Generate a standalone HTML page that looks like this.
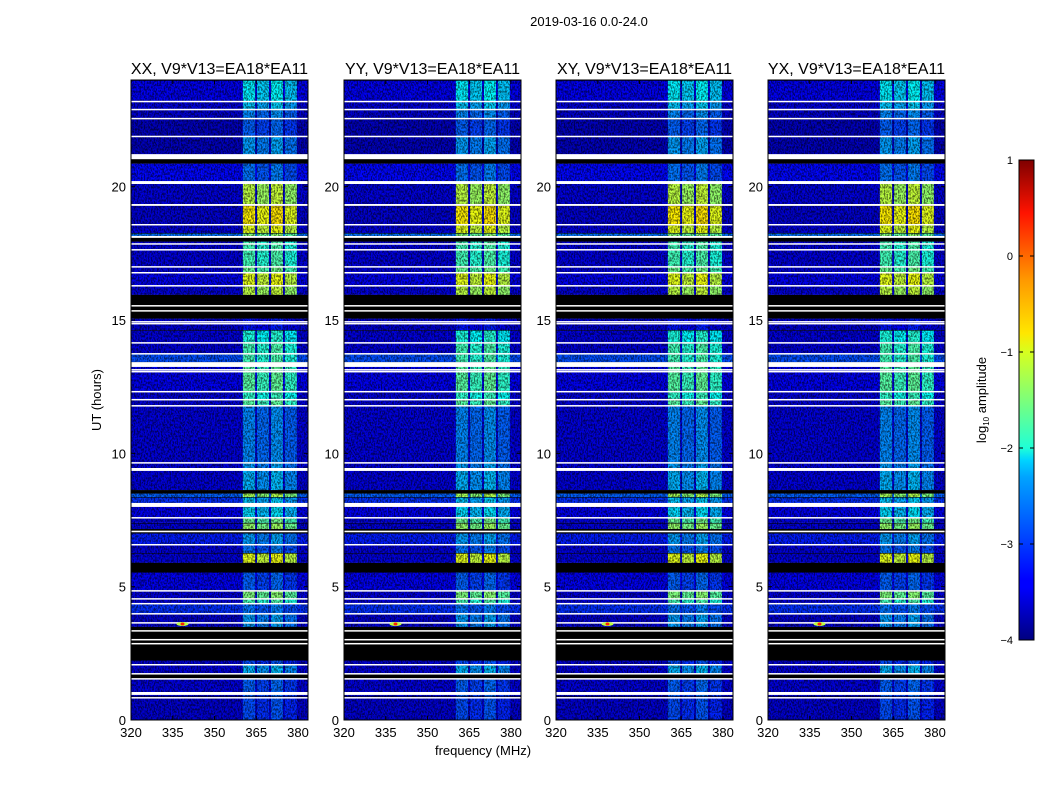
<!DOCTYPE html>
<html><head><meta charset="utf-8"><style>
html,body{margin:0;padding:0;background:#fff;}
svg{display:block;font-family:"Liberation Sans",sans-serif;}
</style></head><body>
<svg id="fig" width="1050" height="800" viewBox="0 0 1050 800">
<defs>
<filter id="speck" x="0" y="0" width="100%" height="100%" color-interpolation-filters="sRGB">
<feTurbulence type="fractalNoise" baseFrequency="0.7 0.45" numOctaves="2" seed="3" result="n"/>
<feColorMatrix in="n" type="matrix" values="0 0 0 0 0  0 0 0 0 0  0 0 0 0 0  4 0 0 0 -1.6" />
</filter>
<linearGradient id="jetgrad" x1="0" y1="1" x2="0" y2="0">
<stop offset="0" stop-color="#00007f"/><stop offset="0.11" stop-color="#0000ff"/>
<stop offset="0.125" stop-color="#0000ff"/><stop offset="0.34" stop-color="#00a4ff"/>
<stop offset="0.375" stop-color="#00d4ff"/><stop offset="0.4" stop-color="#1fffd7"/>
<stop offset="0.5" stop-color="#7dff7a"/><stop offset="0.6" stop-color="#d7ff1f"/>
<stop offset="0.64" stop-color="#ffe600"/><stop offset="0.75" stop-color="#ff9900"/>
<stop offset="0.89" stop-color="#ff1300"/><stop offset="1" stop-color="#7f0000"/>
</linearGradient>
</defs>
<text x="589" y="26" font-size="13" text-anchor="middle">2019-03-16 0.0-24.0</text>
<g id="panels"></g>
<text x="483" y="755" font-size="13" text-anchor="middle">frequency (MHz)</text>
<text x="101" y="400" font-size="13" text-anchor="middle" transform="rotate(-90 101 400)">UT (hours)</text>
<g>
<rect x="1019" y="160" width="15" height="480" fill="url(#jetgrad)" stroke="#000" stroke-width="1"/>
<g id="cbticks"></g>
<text x="986" y="400" font-size="13" text-anchor="middle" transform="rotate(-90 986 400)">log<tspan font-size="8" dy="3">10</tspan><tspan dy="-3"> amplitude</tspan></text>
</g>
</svg>
<script>
// ---- data ----
const panelTitles = ["XX, V9*V13=EA18*EA11","YY, V9*V13=EA18*EA11","XY, V9*V13=EA18*EA11","YX, V9*V13=EA18*EA11"];
const xTicks = [320,335,350,365,380];
const yTicks = [0,5,10,15,20];
const cbTicks = [1,0,-1,-2,-3,-4];
const rfiLo = [360.2,365.3,370.3,375.3];
const rfiHi = [364.6,369.6,374.6,379.6];
const rfiOffset = [0,-0.15,0.05,-0.2];
const bandTop = [24,23.2,22.9,22.55,21.9,21.05,20.88,20.15,19.3,18.58,18.26,18.1,17.96,17.0,16.78,16.29,15.94,15.07,14.62,14.15,13.74,13.42,12.32,12.02,11.79,9.65,9.4,8.62,8.51,8.36,8.06,7.6,7.39,7.16,7.01,6.58,6.26,5.89,5.55,4.86,4.55,4.37,3.99,3.49,2.25,2.08,1.74,1.56,0.9];
const bandBg = [-3.45,-3.55,-3.6,-3.7,-3.7,null,-3.35,-3.55,-3.6,-3.55,-2.8,null,-3.55,-3.55,-3.45,-3.55,null,-3.6,-3.55,-3.55,-3.0,-3.45,-3.55,-3.55,-3.55,-3.55,-3.55,null,-2.9,-3.15,-3.45,-3.55,-3.55,null,-3.25,-3.55,-3.55,null,-3.45,-3.55,-3.55,-3.15,-3.6,null,-3.6,-3.55,null,-3.55,-3.6];
const bandRfi = [-2.2,-2.4,-2.7,-2.9,-2.6,null,-2.8,-1.2,-0.8,-1.0,-1.5,null,-1.8,-1.6,-1.0,-1.2,null,-3.3,-2.0,-1.8,-1.8,-1.7,-1.9,-1.7,-2.7,-2.6,-2.5,null,-1.3,-2.4,-2.3,-1.6,-1.4,null,-2.6,-2.8,-1.0,null,-2.9,-1.5,-1.8,-2.8,-2.6,null,-3.0,-2.5,null,-2.9,-3.0];
const whiteTop = [23.22,22.92,22.58,21.91,21.22,20.21,19.35,18.6,18.15,17.88,17.66,17.02,16.8,16.31,15.56,15.37,14.96,14.89,14.17,13.76,13.42,13.16,13.09,12.34,12.04,11.81,9.67,9.45,8.14,7.61,7.1,6.6,4.87,4.57,4.39,4.01,3.67,3.37,3.04,2.89,2.1,1.76,1.57,1.05,0.86];
const whiteBot = [23.17,22.87,22.53,21.86,21.03,20.1,19.28,18.56,18.08,17.85,17.63,16.98,16.76,16.27,15.52,15.33,14.92,14.85,14.14,13.72,13.24,13.12,13.05,12.3,12.0,11.77,9.64,9.34,7.99,7.57,7.04,6.56,4.84,4.54,4.35,3.97,3.64,3.33,3.0,2.85,2.06,1.72,1.54,0.94,0.82];
const spotFreq = 338.5, spotHour = 3.6;
// ---- layout ----
const panelX0 = [131,344,556,768];
const PW = 177, PTOP = 80, PBOT = 720;
const XMIN = 320, XMAX = 383.6, YMIN = 0, YMAX = 24;
const NS = "http://www.w3.org/2000/svg";
function jet(v){
  let t = (v+4)/5; t = Math.max(0,Math.min(1,t));
  const c = x => Math.round(255*Math.max(0,Math.min(1,x)));
  return `rgb(${c(1.5-Math.abs(4*t-3))},${c(1.5-Math.abs(4*t-2))},${c(1.5-Math.abs(4*t-1))})`;
}
function mk(tag, attrs, parent){
  const e = document.createElementNS(NS, tag);
  for (const k in attrs) e.setAttribute(k, attrs[k]);
  parent.appendChild(e); return e;
}
const panels = document.getElementById('panels');
panelX0.forEach((x0, p) => {
  const sx = f => x0 + (f - XMIN) / (XMAX - XMIN) * PW;
  const sy = h => PBOT - (h - YMIN) / (YMAX - YMIN) * (PBOT - PTOP);
  const g = mk('g', {}, panels);
  
  
  const img = mk('g', {}, g);
  
  
  for (let i = 0; i < bandTop.length; i++) {
    const top = bandTop[i], bot = i+1 < bandTop.length ? bandTop[i+1] : 0;
    const y = sy(top), h = sy(bot) - sy(top);
    const r = mk('rect', {x: x0, y: y, width: PW, height: h, fill: bandBg[i] === null ? '#000' : jet(bandBg[i])}, img);
    
    
    if (bandRfi[i] !== null) {
      for (let k = 0; k < rfiLo.length; k++) {
        const b = mk('rect', {x: sx(rfiLo[k]), y: y, width: sx(rfiHi[k]) - sx(rfiLo[k]), height: h, fill: jet(bandRfi[i] + rfiOffset[k])}, img);
        
        
      }
    }
    mk('rect', {x: x0, y: y, width: PW, height: 0.8, fill: '#000', opacity: 0.7}, img);
  }
  mk('rect', {x: x0, y: PTOP, width: PW, height: PBOT-PTOP, fill: '#000', filter: 'url(#speck)', opacity: 0.55}, img);
  for (let i = 0; i < whiteTop.length; i++) {
    const w = mk('rect', {x: x0, y: sy(whiteTop[i]), width: PW, height: Math.max(1.5, sy(whiteBot[i]) - sy(whiteTop[i])), fill: '#fff'}, img);
    
    
  }
  const s = mk('ellipse', {cx: sx(spotFreq), cy: sy(spotHour), rx: 6, ry: 2, fill: jet(-1.2)}, img);
  
  
  mk('ellipse', {cx: sx(spotFreq), cy: sy(spotHour), rx: 2, ry: 1.5, fill: jet(0.2)}, img);
  const fr = mk('rect', {x: x0, y: PTOP, width: PW, height: PBOT-PTOP, fill: 'none', stroke: '#000', 'stroke-width': 1}, g);
  
  
  const t = mk('text', {x: x0 + PW/2, y: 74, 'font-size': 16, 'text-anchor': 'middle'}, g);
  t.textContent = panelTitles[p];
  
  
  xTicks.forEach(v => {
    const X = sx(v);
    mk('line', {x1: X, x2: X, y1: PBOT, y2: PBOT-4, stroke: '#000'}, g);
    mk('line', {x1: X, x2: X, y1: PTOP, y2: PTOP+4, stroke: '#000'}, g);
    const l = mk('text', {x: X, y: 737, 'font-size': 13, 'text-anchor': 'middle'}, g);
    l.textContent = v;
    
    
  });
  yTicks.forEach(v => {
    const Y = sy(v);
    mk('line', {x1: x0, x2: x0+4, y1: Y, y2: Y, stroke: '#000'}, g);
    mk('line', {x1: x0+PW, x2: x0+PW-4, y1: Y, y2: Y, stroke: '#000'}, g);
    const l = mk('text', {x: x0 - 5, y: Y + 5, 'font-size': 13, 'text-anchor': 'end'}, g);
    l.textContent = v;
    
    
  });
});
const cbg = document.getElementById('cbticks');
cbTicks.forEach(v => {
  const Y = 640 - (v + 4) / 5 * 480;
  mk('line', {x1: 1019, x2: 1023, y1: Y, y2: Y, stroke: '#000'}, cbg);
  mk('line', {x1: 1030, x2: 1034, y1: Y, y2: Y, stroke: '#000'}, cbg);
  const l = mk('text', {x: 1013, y: Y + 4, 'font-size': 11, 'text-anchor': 'end'}, cbg);
  l.textContent = v < 0 ? '\u2212' + Math.abs(v) : String(v);
  
  
});
</script>
</body></html>
